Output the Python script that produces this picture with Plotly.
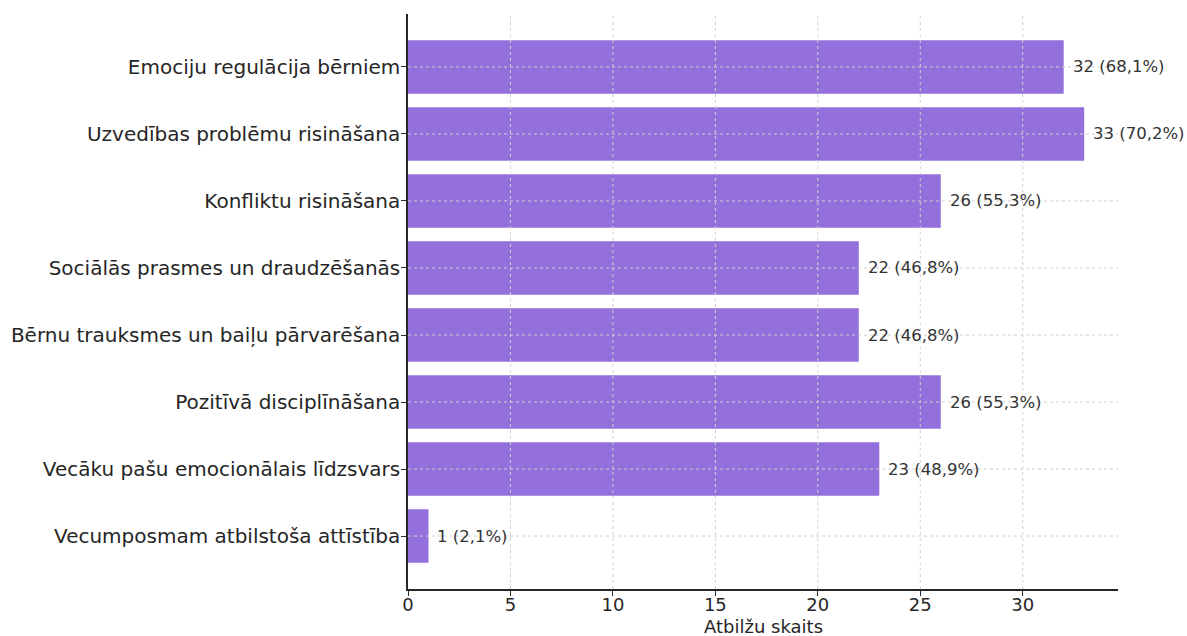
import plotly.graph_objects as go

# Survey topics and respondent counts (n = 47)
topics = [
    "Emociju regulācija bērniem",
    "Uzvedības problēmu risināšana",
    "Konfliktu risināšana",
    "Sociālās prasmes un draudzēšanās",
    "Bērnu trauksmes un baiļu pārvarēšana",
    "Pozitīvā disciplīnāšana",
    "Vecāku pašu emocionālais līdzsvars",
    "Vecumposmam atbilstoša attīstība",
]
counts = [32, 33, 26, 22, 22, 26, 23, 1]
percents = ["68,1%", "70,2%", "55,3%", "46,8%", "46,8%", "55,3%", "48,9%", "2,1%"]
x_ticks = [0, 5, 10, 15, 20, 25, 30]
x_title = "Atbilžu skaits"

FONT = "DejaVu Sans"
TEXT = "#262626"
LABEL = "#333333"
BAR = "#9370DB"
GRID = "#d0d0d0"

n = len(topics)
x_max = max(counts) * 1.05

fig = go.Figure()
fig.add_trace(go.Bar(
    x=counts,
    y=topics,
    orientation="h",
    width=0.8,
    marker=dict(color=BAR, line=dict(width=0)),
    hoverinfo="x+y",
))

# Value labels next to each bar
for t, c, p in zip(topics, counts, percents):
    fig.add_annotation(
        x=c, y=t, text=f"{c} ({p})",
        xanchor="left", yanchor="middle", xshift=7,
        showarrow=False,
        font=dict(family=FONT, size=16.5, color=LABEL),
    )

# Axis title placed under the tick labels
fig.add_annotation(
    xref="paper", yref="paper", x=0.5, y=0,
    text=x_title, showarrow=False,
    xanchor="center", yanchor="top", yshift=-25,
    font=dict(family=FONT, size=18, color=TEXT),
)

# Dashed grid drawn above the bars
dash = "3px,3px"
grid_shapes = []
for v in x_ticks[1:]:
    grid_shapes.append(dict(
        type="line", xref="x", yref="paper", x0=v, x1=v, y0=0, y1=1,
        line=dict(color=GRID, width=1, dash=dash), layer="above",
    ))
for i in range(n):
    grid_shapes.append(dict(
        type="line", xref="paper", yref="y", x0=0, x1=1, y0=i, y1=i,
        line=dict(color=GRID, width=1, dash=dash), layer="above",
    ))
fig.update_layout(shapes=grid_shapes)

fig.update_layout(
    width=1187, height=636,
    margin=dict(l=408, r=69, t=14, b=47),
    plot_bgcolor="white", paper_bgcolor="white",
    showlegend=False,
    xaxis=dict(
        range=[0, x_max],
        tickvals=x_ticks,
        showgrid=False, zeroline=False,
        showline=True, linecolor="#262626", linewidth=1.5,
        ticks="outside", ticklen=5, tickcolor="#262626", tickwidth=1.2,
        tickfont=dict(family=FONT, size=18, color=TEXT),
        ticklabelstandoff=-6,
        automargin=False,
        layer="above traces",
    ),
    yaxis=dict(
        type="category",
        categoryorder="array", categoryarray=topics,
        range=[n - 1 + 0.79, -0.79],
        showgrid=False, zeroline=False,
        showline=True, linecolor="#262626", linewidth=1.5,
        ticks="outside", ticklen=5, tickcolor="#262626", tickwidth=1.2,
        tickfont=dict(family=FONT, size=20, color=TEXT),
        ticklabelstandoff=-3,
        automargin=False,
        layer="above traces",
    ),
)

fig.write_html("out.html")
